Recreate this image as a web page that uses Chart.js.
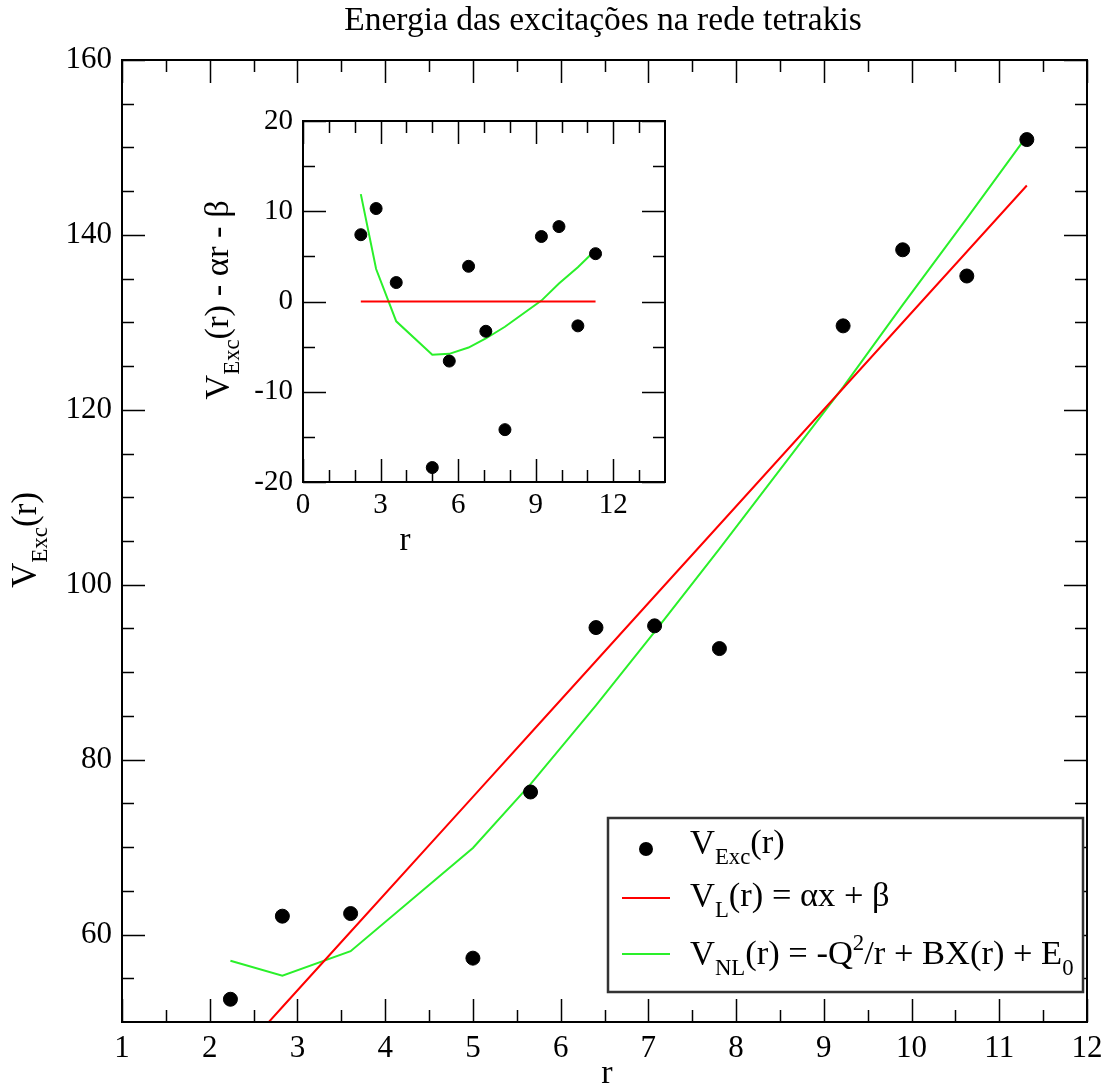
<!DOCTYPE html>
<html>
<head>
<meta charset="utf-8">
<script src="https://cdn.jsdelivr.net/npm/chart.js@4"></script>
<style>
  body { margin: 0; background: #fff; }
  #wrap { position: relative; width: 1114px; height: 1088px; }
  #main { position: absolute; left: 0; top: 0; }
  #inset { position: absolute; left: 170px; top: 60px; }
</style>
</head>
<body>
<div id="wrap">
  <canvas id="main" width="1114" height="1088"></canvas>
  <canvas id="inset" width="510" height="510"></canvas>
</div>
<script>
// distancias r e energias
const r = [2.236, 2.828, 3.606, 5.0, 5.657, 6.403, 7.071, 7.810, 9.220, 9.899, 10.630, 11.314];
const vExc = [52.6, 62.1, 62.4, 57.3, 76.3, 95.1, 95.3, 92.7, 129.6, 138.3, 135.3, 150.9];
const vL = [45.15, 51.71, 60.32, 75.75, 83.02, 91.28, 98.68, 106.86, 122.47, 129.98, 138.07, 145.65];
const vNL = [57.0, 55.3, 58.1, 69.9, 77.2, 86.2, 94.6, 104.1, 122.6, 132.0, 141.9, 151.3];

// residuos (inset)
const resExc = [7.4, 10.3, 2.1, -18.4, -6.6, 3.9, -3.3, -14.2, 7.2, 8.3, -2.7, 5.3];
const resL = [0, 0, 0, 0, 0, 0, 0, 0, 0, 0, 0, 0];
const resNL = [11.9, 3.6, -2.2, -5.9, -5.8, -5.1, -4.1, -2.8, 0.1, 2.0, 3.8, 5.7];

// ticks
const mainXTicks = [1, 2, 3, 4, 5, 6, 7, 8, 9, 10, 11, 12];
const mainXMinor = [1.5, 2.5, 3.5, 4.5, 5.5, 6.5, 7.5, 8.5, 9.5, 10.5, 11.5];
const mainYTicks = [60, 80, 100, 120, 140, 160];
const mainYMinor = [55, 65, 70, 75, 85, 90, 95, 105, 110, 115, 125, 130, 135, 145, 150, 155];
const insetXTicks = [0, 3, 6, 9, 12];
const insetXMinor = [1, 2, 4, 5, 7, 8, 10, 11, 13];
const insetYTicks = [-20, -10, 0, 10, 20];
const insetYMinor = [-15, -5, 5, 15];

const FONT = '"Liberation Serif", "DejaVu Serif", serif';
const RED = '#ff0000';
const GREEN = '#2af02a';

function pts(xs, ys) {
  return xs.map((x, i) => ({ x: x, y: ys[i] }));
}

// texto com subscrito / sobrescrito
function richWidth(ctx, parts, size) {
  let w = 0;
  parts.forEach(p => {
    const s = (p.sub || p.sup) ? size * 0.66 : size;
    ctx.font = s + 'px ' + FONT;
    w += ctx.measureText(p.t).width;
  });
  return w;
}
function drawRich(ctx, parts, x, y, size) {
  ctx.textAlign = 'left';
  ctx.textBaseline = 'alphabetic';
  parts.forEach(p => {
    const s = (p.sub || p.sup) ? size * 0.66 : size;
    const dy = p.sub ? size * 0.32 : (p.sup ? -size * 0.42 : 0);
    ctx.font = s + 'px ' + FONT;
    ctx.fillText(p.t, x, y + dy);
    x += ctx.measureText(p.t).width;
  });
}

// moldura com ticks para dentro (estilo grace)
function framePlugin(cfg) {
  return {
    id: 'frame',
    afterDraw(chart) {
      const ctx = chart.ctx;
      const a = chart.chartArea;
      const xs = chart.scales.x, ys = chart.scales.y;
      ctx.save();
      ctx.strokeStyle = '#000';
      ctx.lineWidth = 2;
      ctx.strokeRect(a.left, a.top, a.right - a.left, a.bottom - a.top);
      ctx.lineWidth = 1.5;
      ctx.beginPath();
      const tx = (vals, len) => vals.forEach(v => {
        const px = Math.round(xs.getPixelForValue(v)) + 0.5;
        ctx.moveTo(px, a.bottom); ctx.lineTo(px, a.bottom - len);
        ctx.moveTo(px, a.top); ctx.lineTo(px, a.top + len);
      });
      const ty = (vals, len) => vals.forEach(v => {
        const py = Math.round(ys.getPixelForValue(v)) + 0.5;
        ctx.moveTo(a.left, py); ctx.lineTo(a.left + len, py);
        ctx.moveTo(a.right, py); ctx.lineTo(a.right - len, py);
      });
      tx(cfg.xMajor, 23); tx(cfg.xMinor, 12);
      ty(cfg.yMajor, 23); ty(cfg.yMinor, 12);
      ctx.stroke();
      ctx.fillStyle = '#000';
      if (cfg.extra) cfg.extra(ctx, chart);
      ctx.restore();
    }
  };
}

function setTicks(list) {
  return function (scale) { scale.ticks = list.map(v => ({ value: v })); };
}

// ---------- grafico principal ----------
new Chart(document.getElementById('main'), {
  type: 'scatter',
  data: {
    datasets: [
      { data: pts(r, vExc), backgroundColor: '#000', borderColor: '#000', pointRadius: 7, pointHoverRadius: 7 },
      { data: pts(r, vL), showLine: true, borderColor: RED, borderWidth: 2, pointRadius: 0 },
      { data: pts(r, vNL), showLine: true, borderColor: GREEN, borderWidth: 2, pointRadius: 0 }
    ]
  },
  options: {
    responsive: false,
    animation: false,
    events: [],
    layout: { padding: { left: 0, right: 27, top: 60, bottom: 0 } },
    plugins: { legend: { display: false }, tooltip: { enabled: false } },
    scales: {
      x: {
        type: 'linear', min: 1, max: 12,
        grid: { display: false, drawTicks: false },
        border: { display: false },
        afterBuildTicks: setTicks(mainXTicks),
        afterFit(s) { s.height = 66; },
        ticks: { color: '#000', padding: 8, maxRotation: 0, font: { family: FONT, size: 31 } }
      },
      y: {
        type: 'linear', min: 50, max: 160,
        grid: { display: false, drawTicks: false },
        border: { display: false },
        afterBuildTicks: setTicks(mainYTicks),
        afterFit(s) { s.width = 122; },
        ticks: { color: '#000', padding: 10, font: { family: FONT, size: 31 } }
      }
    }
  },
  plugins: [framePlugin({
    xMajor: mainXTicks, xMinor: mainXMinor, yMajor: mainYTicks, yMinor: mainYMinor,
    extra(ctx, chart) {
      // titulo
      ctx.font = '33.5px ' + FONT;
      ctx.textAlign = 'center';
      ctx.textBaseline = 'alphabetic';
      ctx.fillText('Energia das excitações na rede tetrakis', 603, 30);
      // eixo x
      ctx.font = '34px ' + FONT;
      ctx.fillText('r', 607, 1083);
      // eixo y
      const yt = [{ t: 'V' }, { t: 'Exc', sub: true }, { t: '(r)' }];
      ctx.save();
      ctx.translate(36, 540);
      ctx.rotate(-Math.PI / 2);
      const w = richWidth(ctx, yt, 35);
      drawRich(ctx, yt, -w / 2, 0, 35);
      ctx.restore();
      // legenda
      ctx.fillStyle = '#fff';
      ctx.fillRect(608, 818, 475, 174);
      ctx.strokeStyle = '#333';
      ctx.lineWidth = 2.5;
      ctx.strokeRect(608, 818, 475, 174);
      ctx.fillStyle = '#000';
      ctx.beginPath();
      ctx.arc(646, 849, 7, 0, Math.PI * 2);
      ctx.fill();
      ctx.lineWidth = 2;
      ctx.strokeStyle = RED;
      ctx.beginPath(); ctx.moveTo(622, 898); ctx.lineTo(670, 898); ctx.stroke();
      ctx.strokeStyle = GREEN;
      ctx.beginPath(); ctx.moveTo(622, 954); ctx.lineTo(670, 954); ctx.stroke();
      drawRich(ctx, [{ t: 'V' }, { t: 'Exc', sub: true }, { t: '(r)' }], 690, 853, 34.5);
      drawRich(ctx, [{ t: 'V' }, { t: 'L', sub: true }, { t: '(r) = αx + β' }], 690, 906, 34.5);
      drawRich(ctx, [{ t: 'V' }, { t: 'NL', sub: true }, { t: '(r) = -Q' }, { t: '2', sup: true },
        { t: '/r + BX(r) + E' }, { t: '0', sub: true }], 690, 964, 34.5);
    }
  })]
});

// ---------- inset ----------
new Chart(document.getElementById('inset'), {
  type: 'scatter',
  data: {
    datasets: [
      { data: pts(r, resExc), backgroundColor: '#000', borderColor: '#000', pointRadius: 6, pointHoverRadius: 6 },
      { data: pts(r, resL), showLine: true, borderColor: RED, borderWidth: 2, pointRadius: 0 },
      { data: pts(r, resNL), showLine: true, borderColor: GREEN, borderWidth: 2, pointRadius: 0 }
    ]
  },
  options: {
    responsive: false,
    animation: false,
    events: [],
    layout: { padding: { left: 0, right: 15, top: 61, bottom: 0 } },
    plugins: { legend: { display: false }, tooltip: { enabled: false } },
    scales: {
      x: {
        type: 'linear', min: 0, max: 14,
        grid: { display: false, drawTicks: false },
        border: { display: false },
        afterBuildTicks: setTicks(insetXTicks),
        afterFit(s) { s.height = 88; },
        ticks: { color: '#000', padding: 6, maxRotation: 0, font: { family: FONT, size: 29 } }
      },
      y: {
        type: 'linear', min: -20, max: 20,
        grid: { display: false, drawTicks: false },
        border: { display: false },
        afterBuildTicks: setTicks(insetYTicks),
        afterFit(s) { s.width = 133; },
        ticks: { color: '#000', padding: 10, font: { family: FONT, size: 29 } }
      }
    }
  },
  plugins: [framePlugin({
    xMajor: insetXTicks, xMinor: insetXMinor, yMajor: insetYTicks, yMinor: insetYMinor,
    extra(ctx) {
      ctx.font = '33px ' + FONT;
      ctx.textAlign = 'center';
      ctx.fillText('r', 235, 490);
      const yt = [{ t: 'V' }, { t: 'Exc', sub: true }, { t: '(r) - αr - β' }];
      ctx.save();
      ctx.translate(58, 240);
      ctx.rotate(-Math.PI / 2);
      const w = richWidth(ctx, yt, 34.5);
      drawRich(ctx, yt, -w / 2, 0, 34.5);
      ctx.restore();
    }
  })]
});
</script>
</body>
</html>
